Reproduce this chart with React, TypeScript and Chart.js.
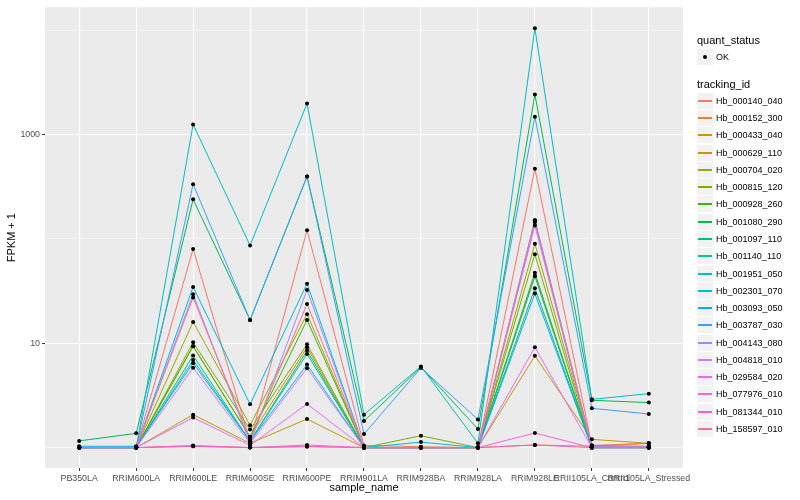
import React, { useEffect, useRef } from "react";
import { Chart, registerables } from "chart.js";

Chart.register(...registerables);

// ---- data (FPKM + 1) ----
const categories = [
  "PB350LA",
  "RRIM600LA",
  "RRIM600LE",
  "RRIM600SE",
  "RRIM600PE",
  "RRIM901LA",
  "RRIM928BA",
  "RRIM928LA",
  "RRIM928LE",
  "RRII105LA_Control",
  "RRII105LA_Stressed",
];

const trackingIds = [
  "Hb_000140_040",
  "Hb_000152_300",
  "Hb_000433_040",
  "Hb_000629_110",
  "Hb_000704_020",
  "Hb_000815_120",
  "Hb_000928_260",
  "Hb_001080_290",
  "Hb_001097_110",
  "Hb_001140_110",
  "Hb_001951_050",
  "Hb_002301_070",
  "Hb_003093_050",
  "Hb_003787_030",
  "Hb_004143_080",
  "Hb_004818_010",
  "Hb_029584_020",
  "Hb_077976_010",
  "Hb_081344_010",
  "Hb_158597_010",
];

const hb000140040 = [1, 1, 79.8, 1.15, 121, 1.05, 1.02, 1, 469, 1.05, 1.1];
const hb000152300 = [1, 1, 1.03, 1, 1.02, 1, 1, 1, 1.06, 1.03, 1.1];
const hb000433040 = [1, 1, 9.35, 1.27, 9.14, 1, 1, 1, 44, 1.02, 1.02];
const hb000629110 = [1, 1, 2.07, 1.1, 1.88, 1, 1, 1, 7.57, 1.2, 1.1];
const hb000704020 = [1, 1, 16.0, 1.64, 19.0, 1, 1, 1, 89.6, 1.05, 1.03];
const hb000815120 = [1, 1, 10.2, 1.49, 9.77, 1, 1.3, 1, 71, 1, 1];
const hb000928260 = [1, 1, 9.35, 1.27, 16.7, 1, 1, 1, 47.4, 1, 1];
const hb001080290 = [1.16, 1.37, 239, 16.7, 396, 1.8, 5.9, 1.51, 2410, 2.84, 2.7];
const hb001097110 = [1, 1, 7.62, 1.15, 8.5, 1, 1, 1, 33.6, 1, 1];
const hb001140110 = [1, 1, 6.9, 1.15, 7.9, 1, 1, 1, 44, 1, 1];
const hb001951050 = [1, 1, 1248, 86.5, 1980, 2.07, 6.0, 1.1, 10400, 2.9, 3.29];
const hb002301070 = [1, 1, 34.6, 2.6, 37.2, 1, 1.13, 1, 151, 1.03, 1];
const hb003093050 = [1.03, 1.03, 6.44, 1.15, 6.25, 1, 1, 1, 29.9, 1, 1];
const hb003787030 = [1, 1, 334, 16.7, 396, 1.35, 5.8, 1.86, 1479, 2.38, 2.1];
const hb004143080 = [1, 1, 29.5, 1.1, 32.4, 1, 1, 1, 144, 1, 1];
const hb004818010 = [1, 1, 5.81, 1.1, 5.77, 1, 1, 1, 134, 1.02, 1.02];
const hb029584020 = [1, 1, 1.94, 1.05, 2.62, 1, 1, 1, 9.14, 1, 1];
const hb077976010 = [1, 1, 1.05, 1, 1.06, 1, 1, 1, 1.38, 1, 1];
const hb081344010 = [1, 1, 1.03, 1, 1.03, 1, 1, 1, 1.06, 1, 1];
const hb158597010 = [1, 1, 27.4, 1.2, 23.7, 1, 1, 1, 151, 1, 1];

const seriesValues = [
  hb000140040, hb000152300, hb000433040, hb000629110, hb000704020,
  hb000815120, hb000928260, hb001080290, hb001097110, hb001140110,
  hb001951050, hb002301070, hb003093050, hb003787030, hb004143080,
  hb004818010, hb029584020, hb077976010, hb081344010, hb158597010,
];

const yGridValues = [1, 10, 100, 1000, 10000];
const yLabelledValues = [10, 1000];

// ---- styles ----
const palette = [
  "#F8766D", "#EA8331", "#D89000", "#C09B00", "#A3A500",
  "#7CAE00", "#39B600", "#00BB4E", "#00BF7D", "#00C1A3",
  "#00BFC4", "#00BAE0", "#00B0F6", "#35A2FF", "#9590FF",
  "#C77CFF", "#E76BF3", "#FA62DB", "#FF62BC", "#FF6C91",
];

const FONT = '"Liberation Sans", Arial, Helvetica, sans-serif';

export default function App() {
  const ref = useRef<HTMLCanvasElement>(null);

  useEffect(() => {
    if (!ref.current) return;

    const panelBg = {
      id: "panelBg",
      beforeDraw(chart: any) {
        const { ctx, chartArea: a } = chart;
        ctx.save();
        ctx.fillStyle = "#FFFFFF";
        ctx.fillRect(0, 0, chart.width, chart.height);
        ctx.fillStyle = "#EBEBEB";
        ctx.fillRect(a.left, a.top, a.right - a.left, a.bottom - a.top);
        ctx.restore();
      },
    };

    const pointsOnTop = {
      id: "pointsOnTop",
      afterDatasetsDraw(chart: any) {
        const ctx = chart.ctx;
        ctx.save();
        ctx.fillStyle = "#000000";
        chart.data.datasets.forEach((_: any, i: number) => {
          const meta = chart.getDatasetMeta(i);
          meta.data.forEach((el: any) => {
            ctx.beginPath();
            ctx.arc(el.x, el.y, 2.0, 0, Math.PI * 2);
            ctx.fill();
          });
        });
        ctx.restore();
      },
    };

    const isMajorY = (c: any) =>
      c && c.tick && yLabelledValues.includes(c.tick.value);

    const chart = new Chart(ref.current, {
      type: "line",
      data: {
        datasets: seriesValues.map((vals, i) => ({
          label: trackingIds[i],
          data: vals.map((v, j) => ({ x: j, y: v })),
          borderColor: palette[i],
          backgroundColor: palette[i],
          borderWidth: 1,
          pointRadius: 0,
          tension: 0,
          order: -i,
        })),
      },
      options: {
        animation: false,
        responsive: false,
        events: [],
        layout: { padding: { top: 5, right: 117, left: 0, bottom: 0 } },
        plugins: {
          legend: { display: false },
          tooltip: { enabled: false },
        },
        scales: {
          x: {
            type: "linear",
            bounds: "data",
            min: -0.6,
            max: 10.6,
            afterBuildTicks: (s: any) => {
              s.ticks = categories.map((_, i) => ({ value: i }));
            },
            afterFit: (s: any) => {
              s.height = 32;
            },
            ticks: {
              callback: (v: any) => categories[v] ?? "",
              autoSkip: false,
              maxRotation: 0,
              minRotation: 0,
              color: "#4D4D4D",
              font: { family: FONT, size: 8.8 },
              padding: 2,
            },
            grid: {
              color: "#FFFFFF",
              lineWidth: 1.1,
              tickColor: "#333333",
              tickLength: 3,
              tickWidth: 1,
            },
            border: { display: false },
            title: {
              display: true,
              text: "sample_name",
              color: "#000000",
              font: { family: FONT, size: 11 },
              padding: { top: 0, bottom: 5.4 },
            },
          },
          y: {
            type: "logarithmic",
            bounds: "data",
            min: 0.638,
            max: 16520,
            afterBuildTicks: (s: any) => {
              s.ticks = yGridValues.map((v) => ({ value: v }));
            },
            afterFit: (s: any) => {
              s.width = 45;
            },
            ticks: {
              callback: (v: any) =>
                yLabelledValues.includes(Number(v)) ? String(v) : "",
              autoSkip: false,
              color: "#4D4D4D",
              font: { family: FONT, size: 8.8 },
              padding: 2,
            },
            grid: {
              color: "#FFFFFF",
              lineWidth: (c: any) => (isMajorY(c) ? 1.1 : 0.55),
              tickColor: (c: any) => (isMajorY(c) ? "#333333" : "rgba(0,0,0,0)"),
              tickLength: 3,
              tickWidth: 1,
            },
            border: { display: false },
            title: {
              display: true,
              text: "FPKM + 1",
              color: "#000000",
              font: { family: FONT, size: 11 },
              padding: { top: 5.4, bottom: 0 },
            },
          },
        },
      } as any,
      plugins: [panelBg, pointsOnTop],
    });

    return () => chart.destroy();
  }, []);

  const legendTop = 100.7;
  const legendStep = 17.28;

  return (
    <div
      style={{
        position: "fixed",
        left: 0,
        top: 0,
        width: 800,
        height: 500,
        background: "#FFFFFF",
        fontFamily: FONT,
        overflow: "hidden",
      }}
    >
      <canvas
        ref={ref}
        width={800}
        height={500}
        style={{ position: "absolute", left: 0, top: 0, width: 800, height: 500 }}
      />
      <div
        style={{
          position: "absolute",
          left: 697,
          top: 34,
          fontSize: 11,
          lineHeight: "13px",
          color: "#000",
          whiteSpace: "nowrap",
        }}
      >
        quant_status
      </div>
      <div
        style={{
          position: "absolute",
          left: 697,
          top: 49,
          width: 16,
          height: 16,
          background: "#F2F2F2",
        }}
      >
        <div
          style={{
            position: "absolute",
            left: 6,
            top: 6,
            width: 4,
            height: 4,
            borderRadius: "50%",
            background: "#000",
          }}
        />
      </div>
      <div
        style={{
          position: "absolute",
          left: 716,
          top: 51,
          fontSize: 9,
          lineHeight: "12px",
          color: "#000",
        }}
      >
        OK
      </div>
      <div
        style={{
          position: "absolute",
          left: 697,
          top: 78,
          fontSize: 11,
          lineHeight: "13px",
          color: "#000",
          whiteSpace: "nowrap",
        }}
      >
        tracking_id
      </div>
      {trackingIds.map((id, i) => {
        const cy = Math.round(legendTop + legendStep * i);
        return (
          <React.Fragment key={id}>
            <div
              style={{
                position: "absolute",
                left: 697,
                top: cy - 8,
                width: 16,
                height: 16,
                background: "#F2F2F2",
              }}
            >
              <div
                style={{
                  position: "absolute",
                  left: 1,
                  width: 14,
                  top: 7,
                  height: 2,
                  background: palette[i],
                }}
              />
            </div>
            <div
              style={{
                position: "absolute",
                left: 716,
                top: cy - 6,
                fontSize: 9,
                lineHeight: "12px",
                color: "#000",
                whiteSpace: "nowrap",
              }}
            >
              {id}
            </div>
          </React.Fragment>
        );
      })}
    </div>
  );
}
